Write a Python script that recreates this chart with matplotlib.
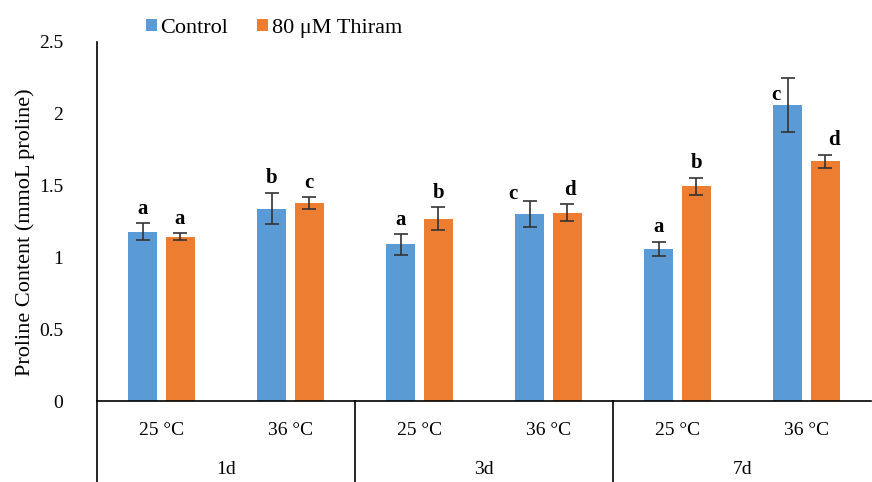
import numpy as np
import matplotlib
matplotlib.use("Agg")
import matplotlib.pyplot as plt
from matplotlib.transforms import blended_transform_factory

plt.rcParams['font.family'] = ['Liberation Serif', 'DejaVu Serif']

days = ["1d", "3d", "7d"]
temps = ["25 °C", "36 °C", "25 °C", "36 °C", "25 °C", "36 °C"]
control = [1.18, 1.34, 1.09, 1.30, 1.06, 2.06]
control_err = [0.06, 0.11, 0.07, 0.09, 0.05, 0.19]
thiram = [1.145, 1.38, 1.27, 1.31, 1.495, 1.67]
thiram_err = [0.025, 0.04, 0.08, 0.06, 0.06, 0.045]
control_letters = ["a", "b", "a", "c", "a", "c"]
thiram_letters = ["a", "c", "b", "d", "b", "d"]

blue = "#5B9BD5"
orange = "#ED7D31"

fig = plt.figure(figsize=(8.72, 4.82), dpi=100)
ax = fig.add_axes([0.111, 0.168, 0.888, 0.745])

x = np.arange(len(temps))
off = 0.145
w = 0.225
ekw = dict(ecolor="#333333", elinewidth=1.2, capthick=1.2)
ax.bar(x - off, control, w, color=blue, label="Control",
       yerr=control_err, capsize=5, error_kw=ekw)
ax.bar(x + off, thiram, w, color=orange, label="80 μM Thiram",
       yerr=thiram_err, capsize=5, error_kw=ekw)

# significance letters (a few sit beside the error bar, as in the original)
c_dx = [0, 0, 0, -0.13, 0, -0.09]
c_dy = [0.03, 0.03, 0.03, -0.02, 0.03, -0.19]
t_dx = [0, 0, 0, 0.02, 0, 0.07]
for i in range(len(temps)):
    ax.text(x[i] - off + c_dx[i], control[i] + control_err[i] + c_dy[i], control_letters[i],
            ha="center", va="bottom", fontsize=15, fontweight="bold")
    ax.text(x[i] + off + t_dx[i], thiram[i] + thiram_err[i] + 0.03, thiram_letters[i],
            ha="center", va="bottom", fontsize=15, fontweight="bold")

ax.set_xlim(-0.5, 5.5)
ax.set_ylim(0, 2.5)
ax.set_yticks([0, 0.5, 1, 1.5, 2, 2.5])
ax.set_yticklabels(["0", "0.5", "1", "1.5", "2", "2.5"])
ax.tick_params(axis="y", length=0, labelsize=14, pad=24)
ax.set_xticks(x)
ax.set_xticklabels(temps)
ax.tick_params(axis="x", length=0, labelsize=14, pad=15)

for s in ["top", "right"]:
    ax.spines[s].set_visible(False)
ax.spines["left"].set_linewidth(1.2)
ax.spines["bottom"].set_linewidth(1.2)

ax.set_ylabel("Proline Content (mmoL proline)", fontsize=16)
ax.yaxis.set_label_coords(-0.08, 0.47)

tr = blended_transform_factory(ax.transData, ax.transAxes)
for b in [-0.5, 1.5, 3.5]:
    ax.plot([b, b], [0, -0.23], transform=tr, color="black", lw=1.2, clip_on=False)
for k, d in enumerate(days):
    ax.text(2 * k + 0.5, -0.19, d, transform=tr, ha="center", va="center", fontsize=14)

ax.legend(loc="upper left", bbox_to_anchor=(0.052, 1.09), ncol=2, frameon=False,
          fontsize=16, handlelength=0.5, handleheight=0.5, handletextpad=0.15,
          columnspacing=1.3, borderaxespad=0)

fig.savefig("out.png", dpi=100)
